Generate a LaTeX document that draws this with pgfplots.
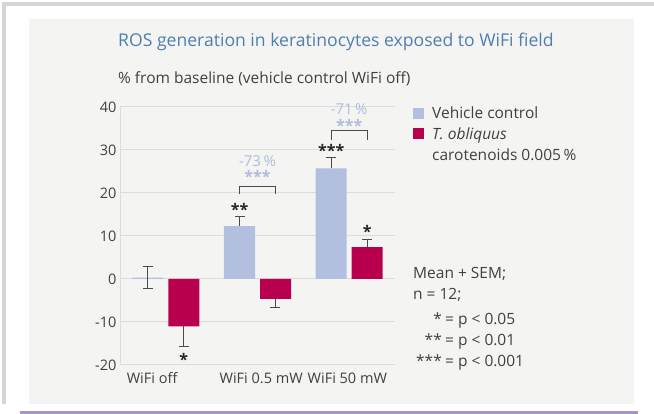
\documentclass[border=0pt]{standalone}
\usepackage{pgfplots}
\pgfplotsset{compat=1.18}
\usepackage{fontspec}
\setmainfont{Open Sans}
\definecolor{vehicle}{HTML}{B3BFDF}
\definecolor{crimson}{HTML}{B8004F}
\definecolor{titleblue}{HTML}{4F7FAE}
\definecolor{annblue}{HTML}{AFBDDB}
\definecolor{textgray}{HTML}{404040}
\definecolor{gridgray}{HTML}{DCDCDC}
\definecolor{errgray}{HTML}{4A4A4A}
\definecolor{panel}{HTML}{F4F4F3}
\definecolor{framegray}{HTML}{D6D6D6}
\definecolor{purpleline}{HTML}{A596C6}
\begin{document}
\begin{tikzpicture}[x=1pt,y=1pt]
\useasboundingbox (0,0) rectangle (654,414);
\fill[white] (0,0) rectangle (654,414);
\fill[framegray] (2,10) rectangle (6,412);
\fill[framegray] (2,408) rectangle (654,412);
\fill[panel] (29,10) rectangle (634,395);
\fill[purpleline] (20,0) rectangle (638,2.5);
% titles
\node[anchor=base west, text=titleblue, font=\fontsize{17.6}{21}\selectfont, inner sep=0] at (118,367) {ROS generation in keratinocytes exposed to WiFi field};
\node[anchor=base west, text=textgray, font=\fontsize{15.5}{18}\selectfont, inner sep=0] at (118,330) {\% from baseline (vehicle control WiFi off)};
\begin{axis}[at={(120pt,49pt)}, anchor=south west, scale only axis,
  width=275pt, height=258pt,
  xmin=-0.5, xmax=2.5, ymin=-20, ymax=40,
  ytick={-20,-10,0,10,20,30,40},
  xtick={-0.15,1.04,1.98},
  xticklabels={WiFi off, WiFi 0.5 mW, WiFi 50 mW},
  ymajorgrids, grid style={gridgray, line width=1pt},
  axis y line*=left, axis x line*=bottom,
  x axis line style={draw=none},
  y axis line style={gridgray, line width=1pt},
  major tick length=0,
  tick label style={font=\fontsize{14.5}{17}\selectfont, text=textgray},
  xticklabel style={yshift=-4pt},
  /pgf/number format/assume math mode=true,
  clip=false,
]
% bars
\addplot[ybar, bar width=31pt, bar shift=-18pt, fill=vehicle, draw=none] coordinates {(0,0.3) (1,12.3) (2,25.7)};
\addplot[ybar, bar width=31pt, bar shift=18pt, fill=crimson, draw=none] coordinates {(0,-11.0) (1,-4.6) (2,7.4)};
% error bars (x placed at bar centres: group +- 0.196)
\pgfplotsset{errstyle/.style={draw=none, mark=none,
  /pgfplots/error bars/y explicit,
  /pgfplots/error bars/error bar style={draw=errgray, line width=1.2pt},
  /pgfplots/error bars/error mark options={rotate=90, draw=errgray, mark size=5pt, line width=1.2pt}}}
\addplot[errstyle, /pgfplots/error bars/y dir=both] coordinates {(-0.196,0.3) +- (0,2.6)};
\addplot[errstyle, /pgfplots/error bars/y dir=plus] coordinates {(0.804,12.3) +- (0,2.2) (1.804,25.7) +- (0,2.5)};
\addplot[errstyle, /pgfplots/error bars/y dir=minus] coordinates {(0.196,-11.0) +- (0,4.7) (1.196,-4.6) +- (0,2.1)};
\addplot[errstyle, /pgfplots/error bars/y dir=plus] coordinates {(2.196,7.4) +- (0,1.7)};
% significance stars
\tikzset{star/.style={font=\fontsize{16}{18}\selectfont\bfseries, text=black!85, inner sep=0}}
\node[star] at ([xshift=18pt]axis cs:0,-18.6) {*};
\node[star] at ([xshift=-18pt]axis cs:1,16.2) {**};
\node[star] at ([xshift=-18pt]axis cs:2,30.0) {***};
\node[star] at ([xshift=18pt]axis cs:2,11.0) {*};
% brackets
\draw[errgray, line width=1pt] ([xshift=-18pt]axis cs:1,19.8) -- ([xshift=-18pt]axis cs:1,21.5) -- ([xshift=18pt]axis cs:1,21.5) -- ([xshift=18pt]axis cs:1,19.8);
\draw[errgray, line width=1pt] ([xshift=-18pt]axis cs:2,32.4) -- ([xshift=-18pt]axis cs:2,34.5) -- ([xshift=18pt]axis cs:2,34.5) -- ([xshift=18pt]axis cs:2,32.4);
\node[star, text=annblue] at (axis cs:1,23.8) {***};
\node[font=\fontsize{15}{18}\selectfont, text=annblue, inner sep=0] at (axis cs:1,27.4) {-73\,\%};
\node[star, text=annblue] at (axis cs:2,35.8) {***};
\node[font=\fontsize{15}{18}\selectfont, text=annblue, inner sep=0] at (axis cs:2,39.4) {-71\,\%};
\end{axis}
% legend
\fill[vehicle] (413,295) rectangle (424,306);
\fill[crimson] (413,274.5) rectangle (424,285.5);
\begin{scope}[every node/.style={anchor=base west, text=textgray, font=\fontsize{15.5}{18}\selectfont, inner sep=0}]
\node at (432,295) {Vehicle control};
\node at (432,274.5) {\itshape T. obliquus};
\node at (432,253.5) {carotenoids 0.005\,\%};
\node at (413,135) {Mean + SEM;};
\node at (413,114) {n = 12;};
\end{scope}
\begin{scope}[every node/.style={text=textgray, font=\fontsize{15.5}{18}\selectfont, inner sep=0}]
\node[anchor=base east] at (442,89) {*};
\node[anchor=base west] at (445,89) {= p < 0.05};
\node[anchor=base east] at (442,68) {**};
\node[anchor=base west] at (445,68) {= p < 0.01};
\node[anchor=base east] at (442,47) {***};
\node[anchor=base west] at (445,47) {= p < 0.001};
\end{scope}
\end{tikzpicture}
\end{document}
